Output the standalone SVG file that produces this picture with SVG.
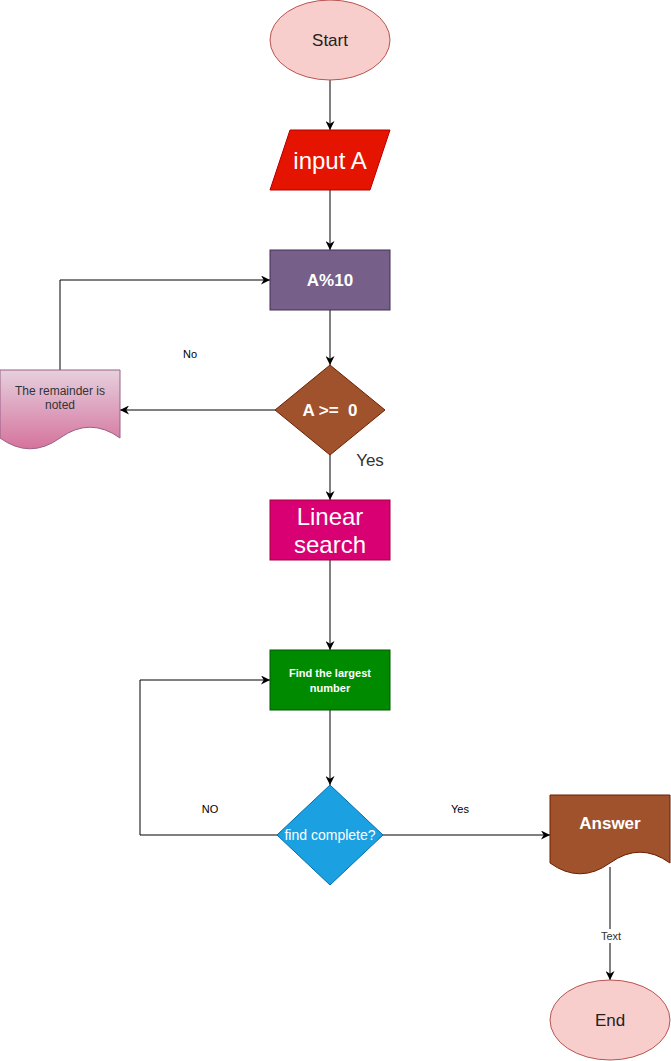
<svg xmlns="http://www.w3.org/2000/svg" width="671" height="1061" viewBox="0 0 671 1061">
<defs>
<style>
text{font-family:"Liberation Sans",Arial,sans-serif;text-anchor:middle;dominant-baseline:central}
.w{fill:#ffffff}
.b{font-weight:bold}
.e{stroke:#000;stroke-width:1;fill:none}
.lbl{font-size:11px;fill:#000}
</style>
<marker id="arr" viewBox="0 0 10 10" refX="10" refY="5" markerWidth="9" markerHeight="9" markerUnits="userSpaceOnUse" orient="auto">
<path d="M0,0 L10,5 L0,10 L3,5 z" fill="#000"/>
</marker>
<linearGradient id="g1" x1="0" y1="0" x2="0" y2="1">
<stop offset="0" stop-color="#e6d0de"/>
<stop offset="1" stop-color="#d5739d"/>
</linearGradient>
</defs>
<g id="connectors">
<path class="e" d="M330,80 V130" marker-end="url(#arr)"/>
<path class="e" d="M330,190 V250" marker-end="url(#arr)"/>
<path class="e" d="M330,310 V365" marker-end="url(#arr)"/>
<path class="e" d="M275,410 H120" marker-end="url(#arr)"/>
<path class="e" d="M60,370 V280 H270" marker-end="url(#arr)"/>
<path class="e" d="M330,455 V500" marker-end="url(#arr)"/>
<path class="e" d="M330,560 V650" marker-end="url(#arr)"/>
<path class="e" d="M330,710 V785" marker-end="url(#arr)"/>
<path class="e" d="M278,835 H140 V680 H270" marker-end="url(#arr)"/>
<path class="e" d="M383,835 H550" marker-end="url(#arr)"/>
<path class="e" d="M610,867 V980" marker-end="url(#arr)"/>
<text class="lbl" x="190" y="354">No</text>
<text x="370" y="460" style="font-size:17px;fill:#333">Yes</text>
<text class="lbl" x="210" y="809">NO</text>
<text class="lbl" x="460" y="809">Yes</text>
<rect x="597" y="929" width="27" height="14" fill="#fff"/>
<text class="lbl" x="611" y="936" style="fill:#333">Text</text>
</g>
<g id="start">
<ellipse cx="330" cy="40" rx="60" ry="40" fill="#f8cecc" stroke="#b85450"/>
<text x="330" y="40" style="font-size:17px;fill:#222">Start</text>
</g>
<g id="inputA">
<path d="M290,130 H390 L370,190 H270 Z" fill="#e51400" stroke="#b20000"/>
<text class="w" x="330" y="160" style="font-size:24px">input A</text>
</g>
<g id="mod">
<rect x="270" y="250" width="120" height="60" fill="#76608a" stroke="#432d57"/>
<text class="w b" x="330" y="280" style="font-size:17px">A%10</text>
</g>
<g id="cond1">
<path d="M330,365 L385,410 L330,455 L275,410 Z" fill="#a0522d" stroke="#6d1f00"/>
<text class="w b" x="330" y="410" style="font-size:17px" xml:space="preserve">A &gt;=  0</text>
</g>
<g id="remainder">
<path d="M0,370 H120 V438 Q90,416.4 60,438 Q30,459.6 0,438 Z" fill="url(#g1)" stroke="#996185"/>
<text x="60" y="391" style="font-size:12px;fill:#333">The remainder is</text>
<text x="60" y="405" style="font-size:12px;fill:#333">noted</text>
</g>
<g id="linear">
<rect x="270" y="500" width="120" height="60" fill="#d80073" stroke="#a50040"/>
<text class="w" x="330" y="516" style="font-size:24px">Linear</text>
<text class="w" x="330" y="544" style="font-size:24px">search</text>
</g>
<g id="findLargest">
<rect x="270" y="650" width="120" height="60" fill="#008a00" stroke="#005700"/>
<text class="w b" x="330" y="673" style="font-size:11px">Find the largest</text>
<text class="w b" x="330" y="688" style="font-size:11px">number</text>
</g>
<g id="cond2">
<path d="M330,785 L383,835 L330,885 L277,835 Z" fill="#1ba1e2" stroke="#006eaf"/>
<text class="w" x="330" y="835" style="font-size:14px">find complete?</text>
</g>
<g id="answer">
<path d="M550,795 H670 V863 Q640,841.4 610,863 Q580,884.6 550,863 Z" fill="#a0522d" stroke="#6d1f00"/>
<text class="w b" x="610" y="823" style="font-size:17px">Answer</text>
</g>
<g id="end">
<ellipse cx="610" cy="1020" rx="60" ry="40" fill="#f8cecc" stroke="#b85450"/>
<text x="610" y="1020" style="font-size:17px;fill:#222">End</text>
</g>
</svg>
